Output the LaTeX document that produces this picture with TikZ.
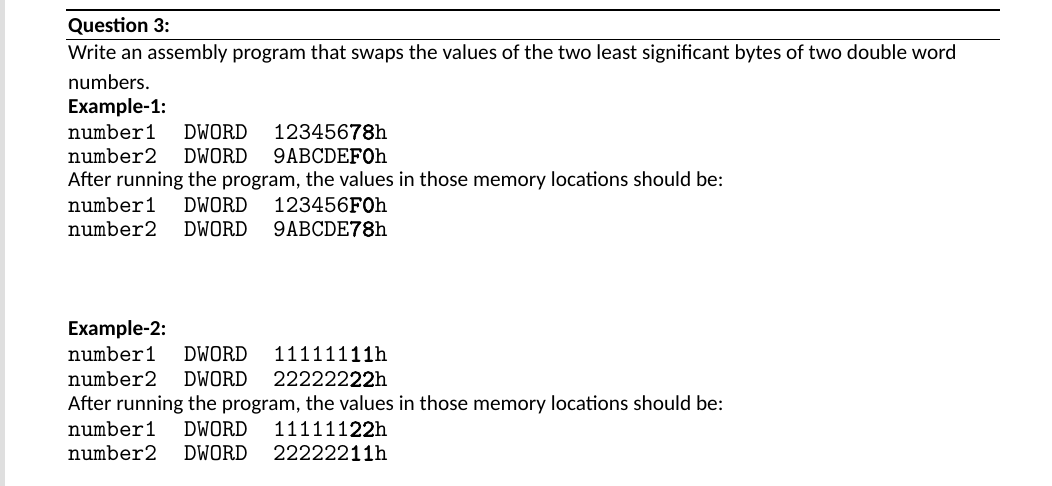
\documentclass[tikz,border=0pt]{standalone}
\usepackage{fontspec}
\setmainfont{Carlito}
\newfontfamily\codefont{lmmono10-regular.otf}
\newfontfamily\codebf{lmmono10-regular.otf}[FakeBold=2.5]
\begin{document}
\begin{tikzpicture}[x=1pt,y=-1pt,
  txt/.style={anchor=west,inner sep=0pt,font=\fontsize{21.3}{24}\selectfont},
  btxt/.style={txt,font=\fontsize{21.3}{24}\selectfont\bfseries},
  code/.style={anchor=west,inner sep=0pt,font=\fontsize{24.2}{26}\selectfont\codefont}]
\useasboundingbox (0,0) rectangle (1052,486);
\fill[white] (0,0) rectangle (1052,486);
\fill[gray!25] (0,0) rectangle (5,486);
\draw[line width=1.6pt] (66,10) -- (1000,10);
\draw[line width=1.6pt] (66,39.5) -- (1000,39.5);
\node[btxt] (q) at (68,26) {Question 3:};
\node[txt] (w1) at (68,54) {Write an assembly program that swaps the values of the two least significant bytes of two double word};
\node[txt] (w2) at (68,82) {numbers.};
\node[btxt] (e1) at (68,108) {Example-1:};
\foreach \y/\n/\v [count=\i] in {132/1/123456{\codebf 78}h,156/2/9ABCDE{\codebf F0}h,205/1/123456{\codebf F0}h,229/2/9ABCDE{\codebf 78}h,354/1/111111{\codebf 11}h,379/2/222222{\codebf 22}h,429/1/111111{\codebf 22}h,453/2/222222{\codebf 11}h}{
  \node[code] (n\i) at (68,\y) {number\n};
  \node[code] (d\i) at (184,\y) {DWORD};
  \node[code] (v\i) at (273,\y) {\v};
}
\node[txt] (a1) at (68,181) {After running the program, the values in those memory locations should be:};
\node[btxt] (e2) at (68,330) {Example-2:};
\node[txt] (a2) at (68,405) {After running the program, the values in those memory locations should be:};
\end{tikzpicture}
\end{document}
